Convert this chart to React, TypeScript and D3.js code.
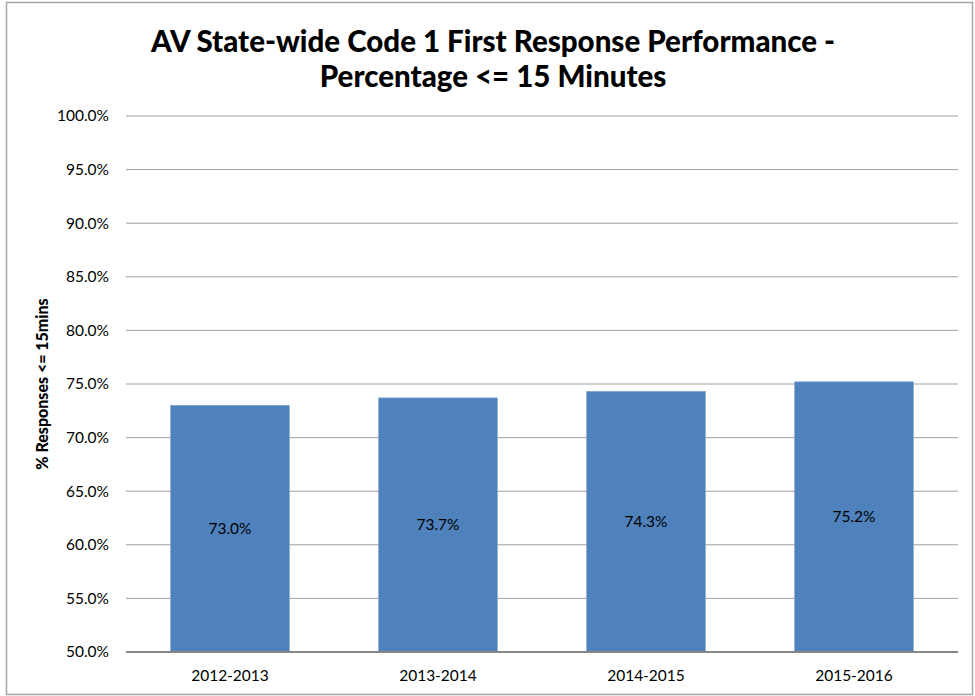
import { useEffect } from "react";
import * as d3 from "d3";

const categories = ["2012-2013", "2013-2014", "2014-2015", "2015-2016"];
const values = [73.0, 73.7, 74.3, 75.2];
const yTicks = [50, 55, 60, 65, 70, 75, 80, 85, 90, 95, 100];
const titleLines = ["AV State-wide Code 1 First Response Performance -", "Percentage <= 15 Minutes"];
const yTitle = "% Responses <= 15mins";

const W = 975;
const H = 696;
const margin = { top: 116, right: 17, bottom: 44, left: 126 };
const font = "Lato, 'Open Sans', sans-serif";

export default function App() {
  useEffect(() => {
    document.body.style.margin = "0";
  }, []);

  const x = d3
    .scaleBand()
    .domain(categories)
    .range([margin.left, W - margin.right])
    .paddingInner(0.43)
    .paddingOuter(0.215);

  const y = d3
    .scaleLinear()
    .domain([50, 100])
    .range([H - margin.bottom, margin.top]);

  const fmt = (v: number) => v.toFixed(1) + "%";

  return (
    <svg width={W} height={H} style={{ display: "block", background: "#fff" }}>
      <rect x={6.5} y={2.5} width={966} height={692} fill="#fff" stroke="#a6a6a6" strokeWidth={1.5} />

      {titleLines.map((t, i) => (
        <text
          key={i}
          x={493}
          y={52 + i * 35}
          textAnchor="middle"
          fontFamily={font}
          fontWeight="900"
          fontSize={29.5}
          fill="#000"
        >
          {t}
        </text>
      ))}

      {yTicks.map((t) => (
        <g key={t}>
          {t !== 50 && (
            <line
              x1={margin.left}
              x2={W - margin.right}
              y1={y(t)}
              y2={y(t)}
              stroke="#a0a0a0"
              strokeWidth={1}
            />
          )}
          <text
            x={109}
            y={y(t)}
            dy="0.35em"
            textAnchor="end"
            fontFamily={font}
            fontSize={15.5}
            fill="#000"
          >
            {fmt(t)}
          </text>
        </g>
      ))}

      {categories.map((c, i) => {
        const bx = x(c) ?? 0;
        const top = y(values[i]);
        const bottom = y(50);
        return (
          <g key={c}>
            <rect
              x={bx}
              y={top}
              width={x.bandwidth()}
              height={bottom - top}
              fill="#4f81bd"
              stroke="#7ba0cd"
              strokeWidth={0.75}
            />
            <text
              x={bx + x.bandwidth() / 2}
              y={(top + bottom) / 2}
              dy="0.35em"
              textAnchor="middle"
              fontFamily={font}
              fontSize={15.5}
              fill="#000"
            >
              {fmt(values[i])}
            </text>
            <text
              x={bx + x.bandwidth() / 2}
              y={676}
              dy="0.35em"
              textAnchor="middle"
              fontFamily={font}
              fontSize={15.5}
              fill="#000"
            >
              {c}
            </text>
          </g>
        );
      })}

      <line
        x1={margin.left}
        x2={W - margin.right}
        y1={y(50)}
        y2={y(50)}
        stroke="#868686"
        strokeWidth={2}
      />

      <text
        transform={`translate(42, ${(margin.top + H - margin.bottom) / 2}) rotate(-90)`}
        textAnchor="middle"
        dy="0.35em"
        fontFamily={font}
        fontWeight="900"
        fontSize={16}
        fill="#000"
      >
        {yTitle}
      </text>
    </svg>
  );
}
